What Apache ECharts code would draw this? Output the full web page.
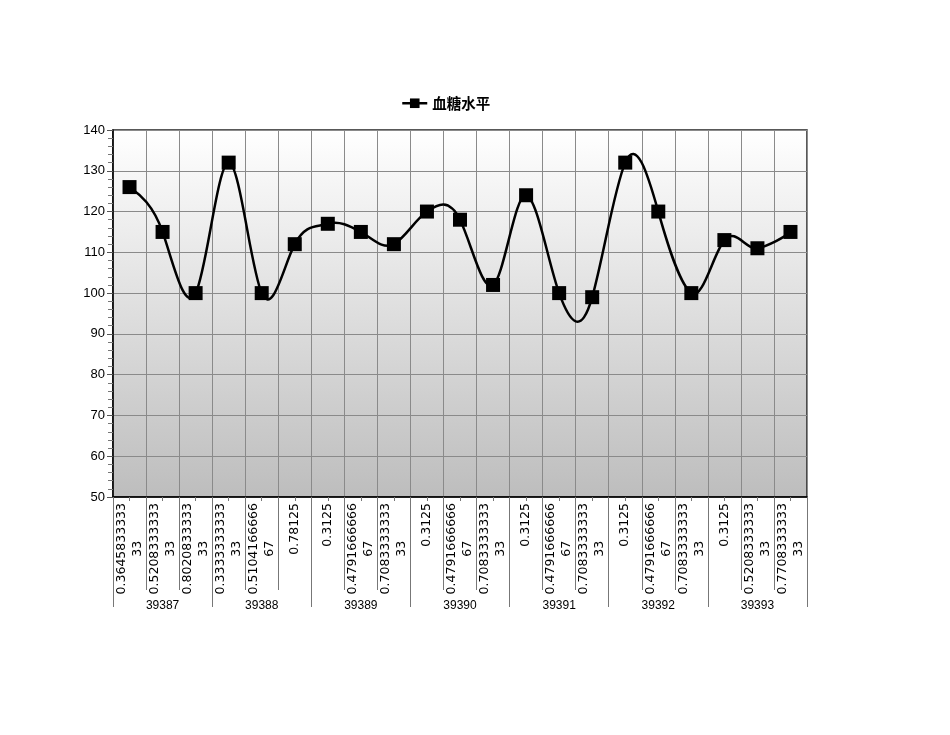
<!DOCTYPE html>
<html>
<head>
<meta charset="utf-8">
<script src="https://cdn.jsdelivr.net/npm/echarts@6/dist/echarts.min.js"></script>
<style>html,body{margin:0;padding:0;background:#fff}#c{width:950px;height:735px}</style>
</head>
<body>
<div id="c"></div>
<script>
var timeLabels = [
  '0.364583333333','0.520833333333','0.802083333333',
  '0.333333333333','0.510416666667','0.78125',
  '0.3125','0.479166666667','0.708333333333',
  '0.3125','0.479166666667','0.708333333333',
  '0.3125','0.479166666667','0.708333333333',
  '0.3125','0.479166666667','0.708333333333',
  '0.3125','0.520833333333','0.770833333333'
];
var dayLabels = ['39387','39388','39389','39390','39391','39392','39393'];
var glucose = [126,115,100,132,100,112,117,115,112,120,118,102,124,100,99,132,120,100,113,111,115];
var seriesName = '血糖水平';
var categories = timeLabels.map(function(t, i){ return i + ':' + t; });

function fmtTime(v){
  var t = v.split(':')[1];
  if (t.length > 12) {
    return '{a|' + t.slice(0,12) + '}\n{b|' + t.slice(12) + '}';
  }
  return '{a|' + t + '}';
}

var TX = 1 / 6, TY = 0.3, TY_START = 0.1;
function renderSegment(params, api){
  var n = glucose.length;
  var i = params.dataIndex;
  if (i >= n - 1) return null;
  function P(j){ j = Math.max(0, Math.min(n - 1, j)); return api.coord([j, glucose[j]]); }
  var p0 = P(i - 1), p1 = P(i), p2 = P(i + 1), p3 = P(i + 2);
  var ty1 = (i === 0) ? TY_START : TY;
  return {
    type: 'bezierCurve',
    shape: {
      x1: p1[0], y1: p1[1], x2: p2[0], y2: p2[1],
      cpx1: p1[0] + (p2[0] - p0[0]) * TX,
      cpy1: p1[1] + (p2[1] - p0[1]) * ty1,
      cpx2: p2[0] - (p3[0] - p1[0]) * TX,
      cpy2: p2[1] - (p3[1] - p1[1]) * TY
    },
    style: {stroke: '#000', lineWidth: 2.5, fill: null}
  };
}

var labelFont = 'DejaVu Sans';
var chart = echarts.init(document.getElementById('c'));
chart.setOption({
  animation: false,
  backgroundColor: '#fff',
  legend: {
    left: 396, top: 91,
    itemWidth: 25, itemHeight: 12, itemGap: 4,
    lineStyle: {color: '#000', width: 2.5, opacity: 1},
    textStyle: {fontSize: 14.5, fontWeight: 'bold', color: '#000', fontFamily: 'Noto Sans CJK SC'},
    data: [seriesName]
  },
  grid: {
    left: 113, right: 143, top: 130, bottom: 238,
    show: true,
    borderColor: '#222', borderWidth: 1.5,
    backgroundColor: {
      type: 'linear', x: 0, y: 0, x2: 0, y2: 1,
      colorStops: [{offset: 0, color: '#ffffff'}, {offset: 1, color: '#bdbdbd'}]
    }
  },
  xAxis: [
    {
      type: 'category', data: categories, position: 'bottom', boundaryGap: true,
      axisLine: {show: true, lineStyle: {color: '#000', width: 1.5}},
      axisTick: {show: true, interval: 0, length: 93, lineStyle: {color: '#777'}},
      splitLine: {show: true, interval: 0, lineStyle: {color: '#8a8a8a', width: 1}},
      axisLabel: {
        interval: 0, rotate: 90, margin: 6, color: '#000',
        fontFamily: labelFont, fontSize: 12.5,
        formatter: fmtTime,
        rich: {
          a: {fontFamily: labelFont, fontSize: 12.5, color: '#000', lineHeight: 16},
          b: {fontFamily: labelFont, fontSize: 12.5, color: '#000', lineHeight: 16, align: 'center'}
        }
      }
    },
    {
      type: 'category', data: dayLabels, position: 'bottom', gridIndex: 0, boundaryGap: true,
      axisLine: {show: false},
      axisTick: {show: true, interval: 0, length: 110, lineStyle: {color: '#777'}},
      splitLine: {show: false},
      axisLabel: {interval: 0, margin: 103, color: '#000', fontFamily: 'Liberation Sans', fontSize: 12}
    },
    {
      type: 'category', data: categories, position: 'bottom', gridIndex: 0, boundaryGap: true,
      axisLine: {show: false},
      axisTick: {show: true, interval: 0, alignWithLabel: true, length: 4, lineStyle: {color: '#777'}},
      splitLine: {show: false},
      axisLabel: {show: false}
    }
  ],
  yAxis: {
    type: 'value', min: 50, max: 140, interval: 10,
    axisLine: {show: true, lineStyle: {color: '#000', width: 1.5}},
    axisTick: {show: true, length: 6, lineStyle: {color: '#555'}},
    minorTick: {show: true, splitNumber: 5, length: 5, lineStyle: {color: '#777'}},
    splitLine: {show: true, lineStyle: {color: '#8a8a8a', width: 1}},
    axisLabel: {color: '#000', fontSize: 13, fontFamily: 'Liberation Sans', margin: 8}
  },
  series: [
    {
      name: '曲线', type: 'custom', xAxisIndex: 0, yAxisIndex: 0,
      renderItem: renderSegment,
      data: glucose.map(function(v, i){ return [i, v]; }),
      encode: {x: 0, y: 1},
      z: 2, silent: true
    },
    {
      name: seriesName, type: 'line', data: glucose, xAxisIndex: 0,
      smooth: false,
      symbol: 'rect', symbolSize: 14,
      lineStyle: {color: '#000', width: 2.5, opacity: 0},
      itemStyle: {color: '#000'},
      z: 3
    }
  ]
});
</script>
</body>
</html>
